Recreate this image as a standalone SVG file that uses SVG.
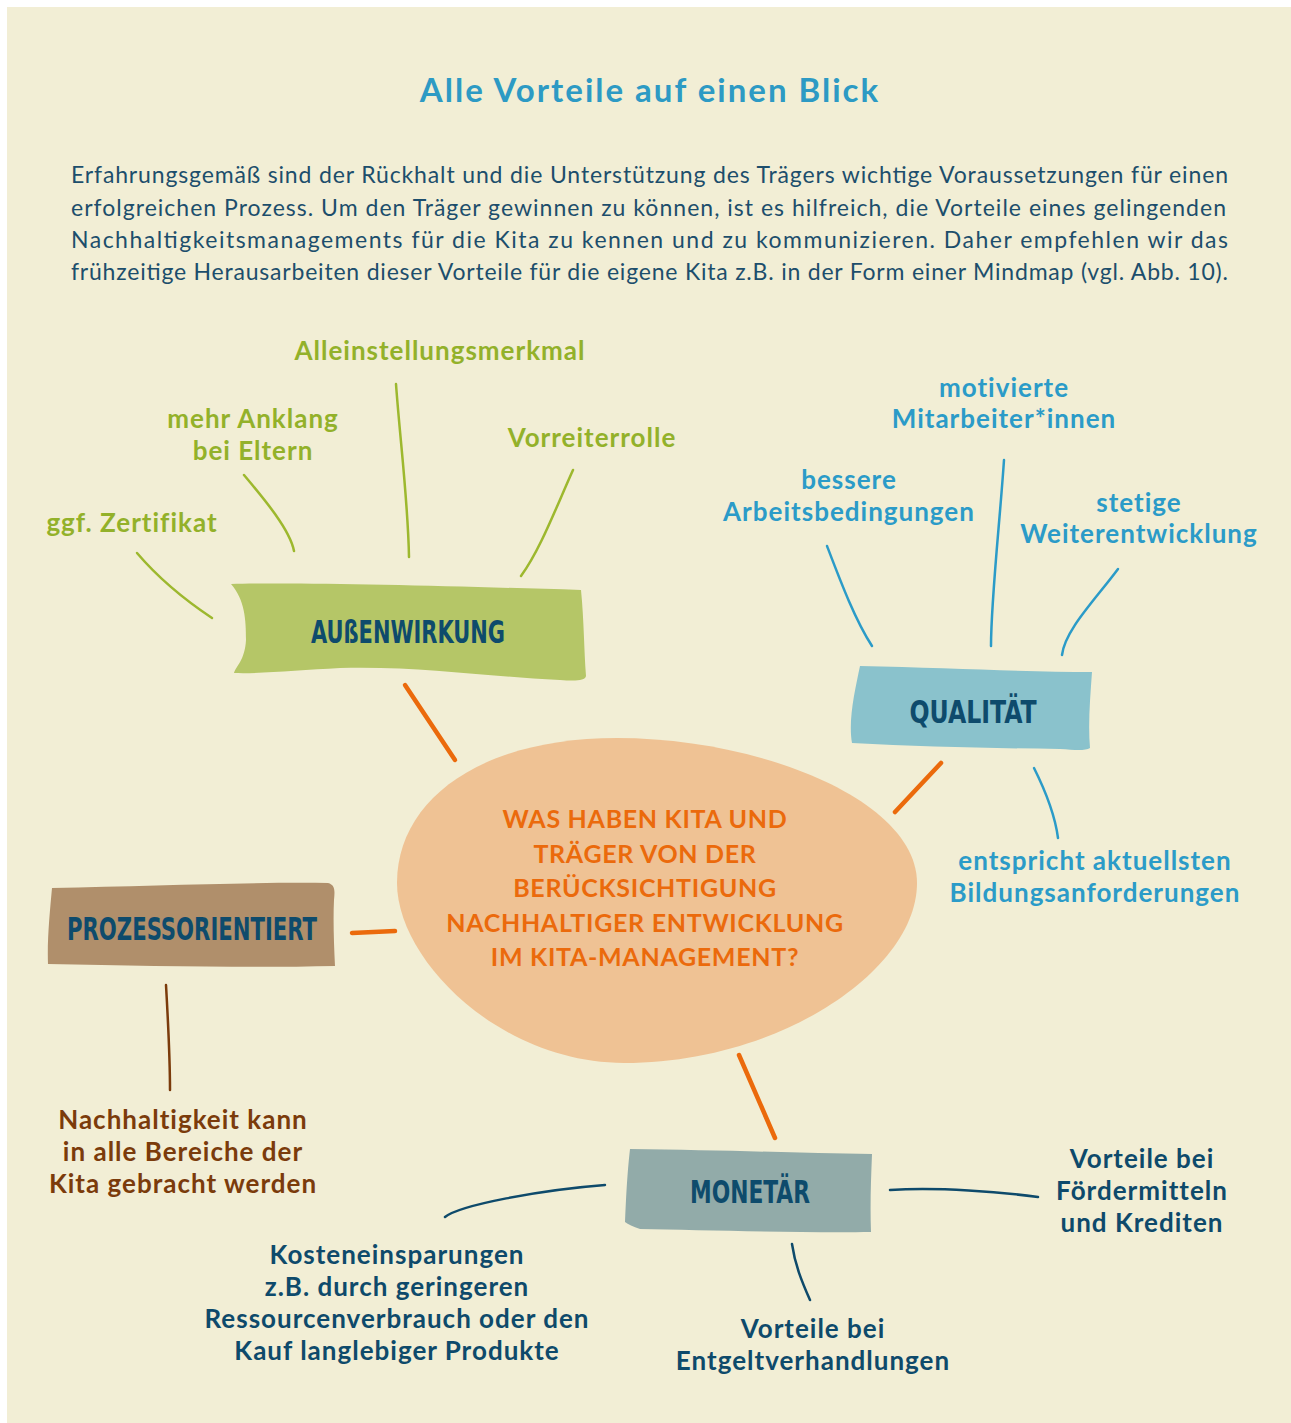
<svg xmlns="http://www.w3.org/2000/svg" width="1291" height="1423" viewBox="0 0 1291 1423">
<style>
.bg{fill:#F2EED5}
.title{font-family:Lato,"Open Sans",sans-serif;font-weight:700;font-size:33px;letter-spacing:2px;fill:#2D9AC4;text-anchor:middle}
.para{font-family:Lato,"Open Sans",sans-serif;font-size:23px;fill:#1D4E6C}
.lbl{font-family:Lato,"Open Sans",sans-serif;font-weight:700;font-size:26px;letter-spacing:1px;text-anchor:middle}
.green{fill:#93B12A}.blue{fill:#2B9BC8}.brown{fill:#7B3B0B}.navy{fill:#0E4A6B}
.box{font-family:"Liberation Sans Narrow","DejaVu Sans Condensed",sans-serif;font-weight:700;font-size:32px;fill:#0E4B6C;text-anchor:middle}
.center{font-family:Lato,"Open Sans",sans-serif;font-weight:700;font-size:25px;letter-spacing:0.7px;fill:#EB6A0C;text-anchor:middle}
.ln{fill:none;stroke-width:2.5;stroke-linecap:round}
.lg{stroke:#9DB82E}.lb{stroke:#2B9BC8}.lbr{stroke:#7B3B0B}.ln2{stroke:#0E4A6B}
.or{fill:none;stroke:#EB6A0C;stroke-width:4.5;stroke-linecap:round}
</style>
<rect class="bg" x="7" y="7" width="1284" height="1416"/>
<text class="title" x="650" y="102">Alle Vorteile auf einen Blick</text>
<g id="intro">
<text class="para" x="71" y="183" textLength="1157">Erfahrungsgemäß sind der Rückhalt und die Unterstützung des Trägers wichtige Voraussetzungen für einen</text>
<text class="para" x="71" y="216" textLength="1155">erfolgreichen Prozess. Um den Träger gewinnen zu können, ist es hilfreich, die Vorteile eines gelingenden</text>
<text class="para" x="71" y="248" textLength="1157">Nachhaltigkeitsmanagements für die Kita zu kennen und zu kommunizieren. Daher empfehlen wir das</text>
<text class="para" x="71" y="280" textLength="1157">frühzeitige Herausarbeiten dieser Vorteile für die eigene Kita z.B. in der Form einer Mindmap (vgl. Abb. 10).</text>
</g>
<g id="connectors">
<path class="or" d="M405,685 L455,760"/>
<path class="or" d="M941,763 L895,812"/>
<path class="or" d="M352,933 L395,931"/>
<path class="or" d="M739,1055 L775,1138"/>
<path class="ln lg" d="M137,553 C160,580 185,600 212,618"/>
<path class="ln lg" d="M244,475 C265,500 290,530 294,551"/>
<path class="ln lg" d="M396,384 C400,440 408,500 409,557"/>
<path class="ln lg" d="M573,470 C555,510 540,550 521,576"/>
<path class="ln lb" d="M827,546 C840,580 855,620 872,646"/>
<path class="ln lb" d="M1004,460 C1000,520 991,600 991,646"/>
<path class="ln lb" d="M1118,569 C1095,600 1065,630 1062,655"/>
<path class="ln lb" d="M1034,768 C1045,790 1055,815 1058,838"/>
<path class="ln lbr" d="M166,985 C168,1020 170,1060 170,1090"/>
<path class="ln ln2" d="M605,1185 C540,1190 460,1205 445,1217"/>
<path class="ln ln2" d="M890,1190 C940,1187 1000,1192 1038,1197"/>
<path class="ln ln2" d="M792,1244 C795,1265 802,1282 810,1300"/>
</g>
<g id="center">
<path d="M617,738 C760,738 917,800 917,883 C917,970 780,1063 624,1063 C500,1063 397,960 397,883 C397,800 480,738 617,738 Z" fill="#EFC294"/>
<text class="center" x="645" y="828">WAS HABEN KITA UND</text>
<text class="center" x="645" y="863">TRÄGER VON DER</text>
<text class="center" x="645" y="897">BERÜCKSICHTIGUNG</text>
<text class="center" x="645" y="932">NACHHALTIGER ENTWICKLUNG</text>
<text class="center" x="645" y="966">IM KITA-MANAGEMENT?</text>
</g>
<g id="aussenwirkung">
<path d="M231,584 C300,582 450,586 581,590 C584,620 584,650 586,676 C585,681 575,681 560,680 C480,676 420,666 340,668 C300,670 260,674 234,673 C236,666 245,660 246,640 C246,620 245,600 231,584 Z" fill="#B5C667"/>
<text class="box" x="408" y="643" textLength="194" lengthAdjust="spacingAndGlyphs">AUßENWIRKUNG</text>
</g>
<g id="qualitaet">
<path d="M860,666 C950,668 1030,672 1092,672 C1090,700 1088,725 1090,748 C1085,751 1075,750 1060,749 C990,748 920,747 852,743 C848,720 855,690 860,666 Z" fill="#8AC2CC"/>
<text class="box" x="973" y="723" textLength="127" lengthAdjust="spacingAndGlyphs">QUALITÄT</text>
</g>
<g id="prozessorientiert">
<path d="M52,888 C150,886 250,882 328,883 C335,885 335,890 334,900 C333,920 334,945 335,966 C250,968 150,966 48,964 C47,940 50,910 52,888 Z" fill="#B08F6B"/>
<text class="box" x="192" y="940" textLength="250" lengthAdjust="spacingAndGlyphs">PROZESSORIENTIERT</text>
</g>
<g id="monetaer">
<path d="M630,1149 C720,1150 800,1153 872,1154 C871,1180 870,1205 871,1232 C800,1233 700,1230 640,1229 C633,1227 628,1224 625,1222 C626,1200 627,1175 630,1149 Z" fill="#92ABA9"/>
<text class="box" x="750" y="1203" textLength="120" lengthAdjust="spacingAndGlyphs">MONETÄR</text>
</g>
<g id="l-zertifikat"><text class="lbl green" x="132" y="532">ggf. Zertifikat</text></g>
<g id="l-anklang"><text class="lbl green" x="253" y="428">mehr Anklang</text><text class="lbl green" x="253" y="460">bei Eltern</text></g>
<g id="l-allein"><text class="lbl green" x="440" y="360">Alleinstellungsmerkmal</text></g>
<g id="l-vorreiter"><text class="lbl green" x="592" y="447">Vorreiterrolle</text></g>
<g id="l-motiviert"><text class="lbl blue" x="1004" y="397">motivierte</text><text class="lbl blue" x="1004" y="428">Mitarbeiter*innen</text></g>
<g id="l-bessere"><text class="lbl blue" x="849" y="489">bessere</text><text class="lbl blue" x="849" y="521">Arbeitsbedingungen</text></g>
<g id="l-stetig"><text class="lbl blue" x="1139" y="512">stetige</text><text class="lbl blue" x="1139" y="543">Weiterentwicklung</text></g>
<g id="l-bildung"><text class="lbl blue" x="1095" y="870">entspricht aktuellsten</text><text class="lbl blue" x="1095" y="902">Bildungsanforderungen</text></g>
<g id="l-nachhaltig"><text class="lbl brown" x="183" y="1129">Nachhaltigkeit kann</text><text class="lbl brown" x="183" y="1161">in alle Bereiche der</text><text class="lbl brown" x="183" y="1193">Kita gebracht werden</text></g>
<g id="l-kosten"><text class="lbl navy" x="397" y="1264">Kosteneinsparungen</text><text class="lbl navy" x="397" y="1296">z.B. durch geringeren</text><text class="lbl navy" x="397" y="1328">Ressourcenverbrauch oder den</text><text class="lbl navy" x="397" y="1360">Kauf langlebiger Produkte</text></g>
<g id="l-foerder"><text class="lbl navy" x="1142" y="1168">Vorteile bei</text><text class="lbl navy" x="1142" y="1200">Fördermitteln</text><text class="lbl navy" x="1142" y="1232">und Krediten</text></g>
<g id="l-entgelt"><text class="lbl navy" x="813" y="1338">Vorteile bei</text><text class="lbl navy" x="813" y="1370">Entgeltverhandlungen</text></g>
</svg>
